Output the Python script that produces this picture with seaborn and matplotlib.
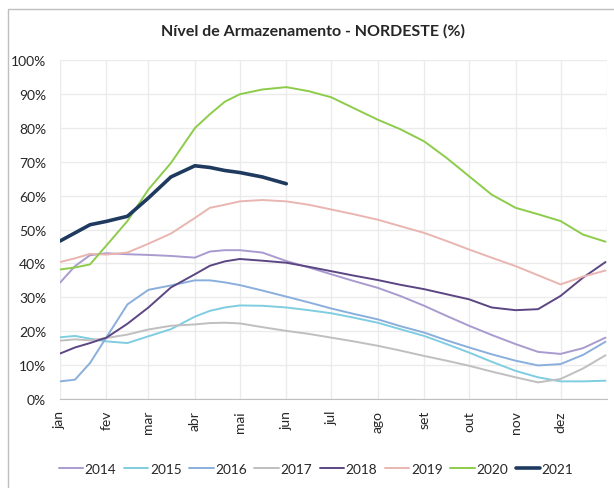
import matplotlib
matplotlib.use("Agg")
from matplotlib import pyplot as plt
from matplotlib.patches import Rectangle
from matplotlib.ticker import PercentFormatter
import pandas as pd
import seaborn as sns

# dia do ano em que cada leitura foi tomada
dias = [0, 10, 20, 31, 45, 59, 74, 90, 100, 110, 120, 135, 151, 166, 181,
        196, 212, 227, 243, 258, 273, 288, 304, 319, 334, 349, 364]

nivel_2014 = [34.3, 39.2, 42.4, 43.0, 42.7, 42.5, 42.2, 41.7, 43.5, 43.9, 43.9, 43.2, 40.7, 38.8, 36.8,
              34.8, 32.8, 30.4, 27.5, 24.5, 21.6, 18.9, 16.2, 13.9, 13.3, 15.0, 18.1]
nivel_2015 = [18.2, 18.6, 17.8, 17.0, 16.5, 18.5, 20.6, 24.3, 26.0, 27.0, 27.6, 27.5, 27.0, 26.2, 25.3,
              24.0, 22.5, 20.6, 18.6, 16.2, 13.7, 11.0, 8.3, 6.4, 5.2, 5.2, 5.4]
nivel_2016 = [5.2, 5.7, 10.6, 18.2, 27.9, 32.2, 33.5, 35.0, 35.0, 34.4, 33.6, 32.0, 30.2, 28.5, 26.7,
              25.1, 23.5, 21.5, 19.6, 17.3, 15.2, 13.2, 11.3, 9.9, 10.3, 13.0, 16.9]
nivel_2017 = [17.2, 17.6, 17.3, 18.0, 19.0, 20.5, 21.6, 22.0, 22.4, 22.5, 22.3, 21.2, 20.1, 19.2, 18.1,
              17.0, 15.7, 14.3, 12.7, 11.3, 9.8, 8.1, 6.4, 4.9, 5.9, 9.0, 12.9]
nivel_2018 = [13.4, 15.2, 16.5, 18.1, 22.2, 27.0, 32.9, 36.8, 39.3, 40.6, 41.3, 40.8, 40.2, 39.0, 37.7,
              36.4, 35.1, 33.7, 32.4, 30.9, 29.4, 27.0, 26.2, 26.5, 30.4, 35.8, 40.4]
nivel_2019 = [40.4, 41.5, 42.8, 42.6, 43.2, 45.8, 48.8, 53.4, 56.4, 57.3, 58.3, 58.7, 58.3, 57.3, 55.9,
              54.5, 52.9, 51.0, 49.0, 46.6, 44.1, 41.7, 39.2, 36.5, 33.8, 36.1, 37.9]
nivel_2020 = [38.2, 38.8, 39.7, 45.3, 52.5, 61.8, 69.6, 79.9, 84.0, 87.7, 89.9, 91.3, 92.0, 90.8, 89.0,
              85.8, 82.4, 79.6, 76.0, 71.1, 65.7, 60.3, 56.4, 54.5, 52.5, 48.5, 46.4]
nivel_2021 = [46.6, 49.0, 51.4, 52.4, 53.9, 59.3, 65.5, 68.8, 68.3, 67.4, 66.8, 65.5, 63.5]

anos = ["2014", "2015", "2016", "2017", "2018", "2019", "2020", "2021"]
series = [nivel_2014, nivel_2015, nivel_2016, nivel_2017, nivel_2018, nivel_2019, nivel_2020, nivel_2021]
cores = ["#A99BCF", "#7FCDE0", "#8AAFDC", "#BFBFBF", "#5B4683", "#E9B5B0", "#8CCC4A", "#1F3A5F"]

meses = ["jan", "fev", "mar", "abr", "mai", "jun", "jul", "ago", "set", "out", "nov", "dez"]
inicio_mes = [0, 31, 59, 90, 120, 151, 181, 212, 243, 273, 304, 334]

rows = []
for ano, valores in zip(anos, series):
    for d, v in zip(dias, valores):
        rows.append({"dia": d, "nivel": v, "ano": ano})
df = pd.DataFrame(rows)

sns.set_style("white")
plt.rcParams["font.family"] = ["Lato", "DejaVu Sans"]

fig = plt.figure(figsize=(6.14, 4.89), dpi=100)
ax = fig.add_axes([60 / 614, 1 - 400 / 489, 547 / 614, 339 / 489])

# moldura do grafico
fig.patches.append(Rectangle((8 / 614, -0.01), 1.0, 1 - 10 / 489 + 0.01, transform=fig.transFigure,
                             fill=False, edgecolor="#BFBFBF", linewidth=1.0))

for ano, cor in zip(anos, cores):
    sns.lineplot(data=df[df["ano"] == ano], x="dia", y="nivel", color=cor,
                 linewidth=2.6 if ano == "2021" else 1.4, label=ano, ax=ax)

ax.set_xlim(0, 365)
ax.set_ylim(0, 100)
ax.set_yticks(range(0, 101, 10))
ax.yaxis.set_major_formatter(PercentFormatter(decimals=0))
ax.set_xticks(inicio_mes + [365])
ax.set_xticklabels(meses + [""], rotation=90)
ax.set_xlabel("")
ax.set_ylabel("")
ax.grid(True, color="#EBEBEB", linewidth=1.0)
ax.set_axisbelow(True)
for side in ["top", "right", "left"]:
    ax.spines[side].set_visible(False)
ax.spines["bottom"].set_color("#BFBFBF")
ax.tick_params(axis="x", length=5, color="#BFBFBF", labelsize=10, pad=3)
ax.tick_params(axis="y", length=0, labelsize=10, pad=10)

fig.text(0.51, 1 - 31 / 489, "Nível de Armazenamento - NORDESTE (%)", ha="center", va="center",
         fontsize=11.5, fontweight="bold")

ax.legend(loc="center", bbox_to_anchor=(316 / 614, 1 - 470 / 489), bbox_transform=fig.transFigure,
          ncol=8, frameon=False, fontsize=9.8, handlelength=1.8, handletextpad=0.12,
          columnspacing=0.55, borderpad=0)

fig.savefig("out.png", dpi=100)
